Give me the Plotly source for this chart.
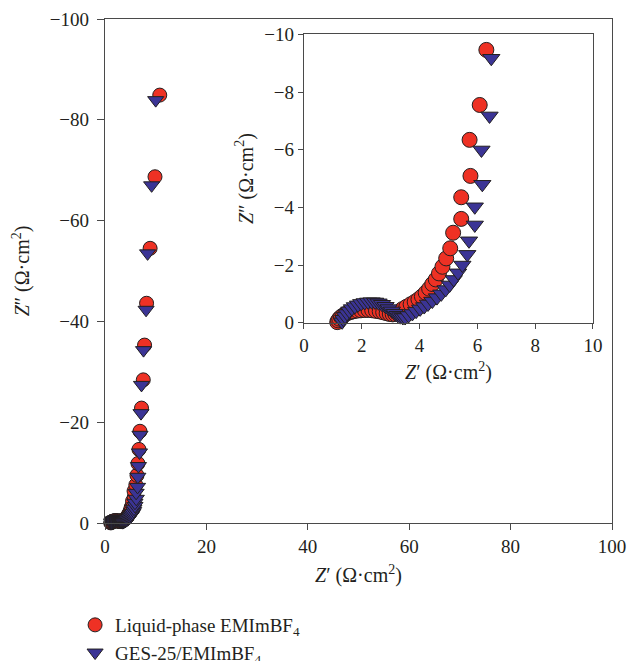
import plotly.graph_objects as go

# Liquid-phase EMImBF4 (circles): Z' and Z'' in ohm·cm2
liq_zre = [1.15, 1.18, 1.22, 1.28, 1.35, 1.43, 1.52, 1.62, 1.73, 1.85, 1.97, 2.10, 2.23, 2.36, 2.49,
           2.62, 2.74, 2.86, 2.97, 3.07, 3.16, 3.25, 3.33, 3.40, 3.54, 3.69, 3.83, 3.96, 4.08, 4.21,
           4.33, 4.44, 4.56, 4.67, 4.79, 4.92, 5.06, 5.16, 5.44, 5.44, 5.76, 5.73, 6.08, 6.31,
           6.5, 6.7, 6.9, 7.2, 7.55, 7.8, 8.2, 8.9, 9.86, 10.8]
liq_zim = [-0.02, -0.08, -0.14, -0.20, -0.25, -0.30, -0.34, -0.37, -0.40, -0.42, -0.43, -0.44, -0.44, -0.43, -0.41,
           -0.39, -0.36, -0.33, -0.30, -0.29, -0.30, -0.33, -0.38, -0.47, -0.55, -0.64, -0.72, -0.81, -0.91, -1.04,
           -1.18, -1.34, -1.50, -1.71, -1.94, -2.23, -2.58, -3.12, -3.60, -4.35, -5.09, -6.34, -7.55, -9.46,
           -11.8, -14.6, -18.2, -22.8, -28.4, -35.3, -43.6, -54.5, -68.7, -84.9]

# GES-25/EMImBF4 (triangles)
ges_zre = [1.32, 1.36, 1.42, 1.49, 1.57, 1.66, 1.76, 1.87, 1.98, 2.10, 2.22, 2.34, 2.46, 2.58, 2.70,
           2.82, 2.93, 3.04, 3.14, 3.24, 3.33, 3.42, 3.50, 3.62, 3.75, 3.88, 4.02, 4.16, 4.29, 4.44,
           4.60, 4.75, 4.90, 5.04, 5.18, 5.33, 5.48, 5.65, 5.71, 5.91, 5.91, 6.17, 6.14, 6.42, 6.48,
           6.6, 6.8, 6.9, 7.1, 7.2, 7.6, 8.1, 8.4, 9.2, 10.0]
ges_zim = [-0.03, -0.12, -0.22, -0.32, -0.41, -0.49, -0.56, -0.62, -0.67, -0.70, -0.72, -0.73, -0.72, -0.69, -0.64,
           -0.57, -0.49, -0.41, -0.33, -0.26, -0.21, -0.18, -0.18, -0.25, -0.32, -0.40, -0.48, -0.56, -0.65, -0.75,
           -0.87, -1.00, -1.15, -1.31, -1.50, -1.73, -2.00, -2.37, -2.84, -3.39, -4.02, -4.80, -5.99, -7.17, -9.17,
           -11.3, -14.0, -17.5, -21.8, -27.4, -34.3, -42.3, -53.5, -67.0, -83.9]

names = ["Liquid-phase EMImBF<sub>4</sub>", "GES-25/EMImBF<sub>4</sub>"]

main_xticks = [0, 20, 40, 60, 80, 100]
main_yticks = [0, -20, -40, -60, -80, -100]
inset_xticks = [0, 2, 4, 6, 8, 10]
inset_yticks = [0, -2, -4, -6, -8, -10]

RED = "#EE3124"
BLUE = "#3B3495"
EDGE = "#231F20"
AX = "#4a4a4a"
TXT = "#231F20"
FONT = "Liberation Serif"

fig = go.Figure()

# main plot
fig.add_trace(go.Scatter(x=liq_zre, y=liq_zim, mode="markers", name=names[0], legendgroup="a",
                         marker=dict(symbol="circle", size=14, color=RED, line=dict(color=EDGE, width=1)),
                         cliponaxis=False, xaxis="x", yaxis="y"))
fig.add_trace(go.Scatter(x=ges_zre, y=ges_zim, mode="markers", name=names[1], legendgroup="b",
                         marker=dict(symbol="triangle-down", size=14, color=BLUE, line=dict(color=EDGE, width=1)),
                         cliponaxis=False, xaxis="x", yaxis="y"))

# inset (only points inside its range)
li = [(a, b) for a, b in zip(liq_zre, liq_zim) if b >= -10]
gi = [(a, b) for a, b in zip(ges_zre, ges_zim) if b >= -10]
fig.add_trace(go.Scatter(x=[p[0] for p in li], y=[p[1] for p in li], mode="markers", showlegend=False,
                         marker=dict(symbol="circle", size=15, color=RED, line=dict(color=EDGE, width=1)),
                         cliponaxis=False, xaxis="x2", yaxis="y2"))
fig.add_trace(go.Scatter(x=[p[0] for p in gi], y=[p[1] for p in gi], mode="markers", showlegend=False,
                         marker=dict(symbol="triangle-down", size=15, color=BLUE, line=dict(color=EDGE, width=1)),
                         cliponaxis=False, xaxis="x2", yaxis="y2"))

axcommon = dict(showgrid=False, zeroline=False, showline=True, linecolor=AX, linewidth=1.3, mirror=True,
                ticks="outside", ticklen=5, tickwidth=1.2, tickcolor=AX,
                tickfont=dict(family=FONT, size=19, color=TXT))
titlefont = dict(family=FONT, size=20, color=TXT)

fig.update_layout(
    width=639, height=700,
    margin=dict(l=97, r=35, t=11, b=185, autoexpand=False),
    paper_bgcolor="white", plot_bgcolor="white",
    font=dict(family=FONT, size=19, color=TXT),
    xaxis=dict(axcommon, range=[0, 100], tickvals=main_xticks, domain=[0, 1], ticklen=6,
               title=dict(text="<i>Z</i>′ (Ω·cm<sup>2</sup>)", font=titlefont, standoff=12)),
    yaxis=dict(axcommon, range=[0, -100], tickvals=main_yticks, domain=[0, 1], ticklen=7,
               ticklabelstandoff=4,
               title=dict(text="<i>Z</i>″ (Ω·cm<sup>2</sup>)", font=titlefont, standoff=14)),
    xaxis2=dict(axcommon, range=[0, 10], tickvals=inset_xticks, domain=[0.3925, 0.9625], anchor="y2",
                title=dict(text="<i>Z</i>′ (Ω·cm<sup>2</sup>)", font=titlefont, standoff=10)),
    yaxis2=dict(axcommon, range=[0, -10], tickvals=inset_yticks, domain=[0.3974, 0.9696], anchor="x2",
                title=dict(text="<i>Z</i>″ (Ω·cm<sup>2</sup>)", font=titlefont, standoff=5)),
    legend=dict(x=-0.059, y=-0.1647, xanchor="left", yanchor="top", tracegroupgap=0,
                font=dict(family=FONT, size=19, color=TXT), bgcolor="rgba(0,0,0,0)"),
    showlegend=True,
)

fig.write_html("out.html")
